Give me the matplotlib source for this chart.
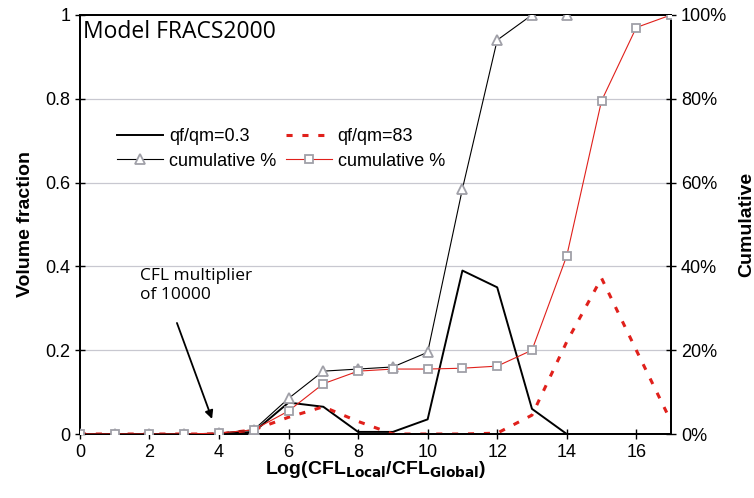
import matplotlib
matplotlib.use("Agg")
import matplotlib.pyplot as plt
import numpy as np

plt.rcParams['font.family'] = ['Liberation Sans', 'DejaVu Sans']

# data
x_all = list(range(0, 18))
frac_low = [0, 0, 0, 0, 0, 0.005, 0.075, 0.065, 0.005, 0.005, 0.035, 0.39, 0.35, 0.06, 0, 0, 0, 0]
frac_high = [0, 0, 0, 0, 0, 0.01, 0.04, 0.065, 0.03, 0.0, 0, 0, 0.002, 0.045, 0.22, 0.372, 0.2, 0.03]
x_cum_low = list(range(0, 15))
cum_low = [0, 0, 0, 0, 0.002, 0.01, 0.085, 0.15, 0.155, 0.16, 0.195, 0.585, 0.94, 1.0, 1.0]
cum_high = [0, 0, 0, 0, 0.002, 0.01, 0.055, 0.12, 0.15, 0.155, 0.155, 0.157, 0.162, 0.2, 0.425, 0.795, 0.97, 1.0]

fig = plt.figure(figsize=(7.54, 4.98), dpi=100)
ax = fig.add_axes([0.106, 0.1285, 0.784, 0.8415])
ax2 = ax.twinx()

# gridlines
for yv in [0.2, 0.4, 0.6, 0.8]:
    ax.axhline(yv, color='#c8c8d0', lw=0.9, zorder=0)

ax.plot(x_all, frac_low, color='black', lw=1.4, label='qf/qm=0.3', zorder=3)
ax.plot(x_all, frac_high, color='#e0201b', lw=2.2, ls=(0, (2, 3.2)), label='qf/qm=83', zorder=3)
ax2.plot(x_cum_low, cum_low, color='black', lw=0.8, marker='^', ms=7, mfc='white', mec='#a0a0a8',
         mew=1.3, label='cumulative %', zorder=4)
ax2.plot(x_all, cum_high, color='#e0201b', lw=0.8, marker='s', ms=6, mfc='white', mec='#a0a0a8',
         mew=1.3, label='cumulative %', zorder=4)

ax.set_xlim(0, 17)
ax.set_ylim(0, 1)
ax2.set_ylim(0, 1)
ax.set_xticks(range(0, 17, 2))
ax.set_yticks([0, 0.2, 0.4, 0.6, 0.8, 1.0])
ax.set_yticklabels(['0', '0.2', '0.4', '0.6', '0.8', '1'])
ax2.set_yticks([0, 0.2, 0.4, 0.6, 0.8, 1.0])
ax2.set_yticklabels(['0%', '20%', '40%', '60%', '80%', '100%'])
ax.tick_params(direction='inout', length=7, width=1, labelsize=13)
ax2.tick_params(direction='inout', length=7, width=1, labelsize=13)
for a in (ax, ax2):
    for s in a.spines.values():
        s.set_linewidth(1.3)

ax.set_ylabel('Volume fraction', fontsize=14, fontweight='bold', labelpad=8)
ax2.set_ylabel('Cumulative', fontsize=14, fontweight='bold', labelpad=8)
ax.set_xlabel(r'Log(CFL$_{\mathbf{Local}}$/CFL$_{\mathbf{Global}}$)', fontsize=14, fontweight='bold', labelpad=-1)

ax.text(0.08, 0.945, 'Model FRACS2000', fontsize=16.5, family='Open Sans', va='baseline', ha='left',
        transform=ax.get_xaxis_transform())
ax.text(1.73, 0.397, 'CFL multiplier\nof 10000', fontsize=12.5, family='Open Sans', ha='left', va='top',
        linespacing=1.25)
ax.annotate('', xy=(3.8, 0.036), xytext=(2.79, 0.265),
            arrowprops=dict(arrowstyle='-|>', color='black', lw=1.3, mutation_scale=12,
                            shrinkA=0, shrinkB=0))

h1, l1 = ax.get_legend_handles_labels()
h2, l2 = ax2.get_legend_handles_labels()
handles = [h1[0], h2[0], h1[1], h2[1]]
labels = [l1[0], l2[0], l1[1], l2[1]]
ax2.legend(handles, labels, ncol=2, frameon=False, fontsize=13, loc='upper left',
           bbox_to_anchor=(0.036, 0.768), handlelength=2.55, handletextpad=0.3,
           columnspacing=0.55, labelspacing=0.4)

fig.savefig('out.png', dpi=100)
